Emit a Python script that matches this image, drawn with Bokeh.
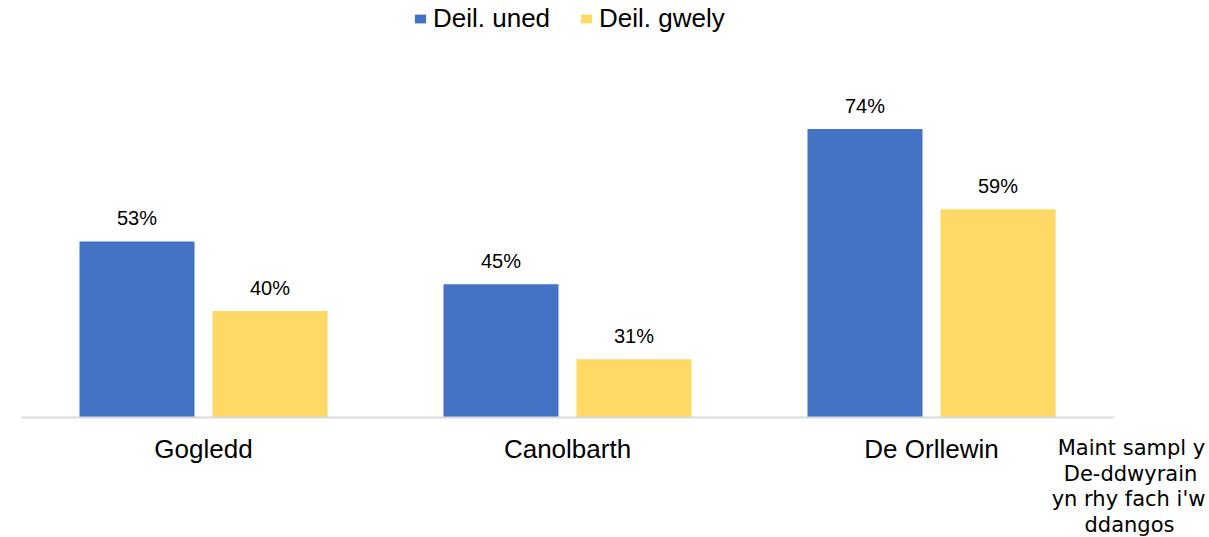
from bokeh.plotting import figure
from bokeh.models import (ColumnDataSource, Range1d, Legend, LegendItem, LabelSet, Label,
                          LinearAxis, FixedTicker)
from bokeh.transform import dodge
from bokeh.core.properties import value
from bokeh.embed import file_html
from bokeh.resources import INLINE

categories = ["Gogledd", "Canolbarth", "De Orllewin"]
series_names = ["Deil. uned", "Deil. gwely"]
deil_uned = [53, 45, 74]
deil_gwely = [40, 31, 59]
colors = ["#4472C4", "#FFD966"]
note_lines = ["Maint sampl y", "De-ddwyrain", "yn rhy fach i'w", "ddangos"]

cat_pos = [i + 0.5 for i in range(len(categories))]
src = ColumnDataSource(dict(
    pos=cat_pos,
    uned=deil_uned,
    gwely=deil_gwely,
    uned_lbl=[f"{v}%" for v in deil_uned],
    gwely_lbl=[f"{v}%" for v in deil_gwely],
))

W, H = 1209, 537
Y0 = 20            # value at the category axis
X_START, X_END = -0.0577, 3.2637
Y_START, Y_END = -2.34, 98.04

p = figure(x_range=Range1d(X_START, X_END), y_range=Range1d(Y_START, Y_END),
           width=W, height=H, output_backend="svg", toolbar_location=None,
           x_axis_location=None, y_axis_location=None,
           min_border_left=0, min_border_right=0, min_border_top=0, min_border_bottom=0)

BW = 0.316
OFF = 0.1827
r1 = p.vbar(x=dodge("pos", -OFF), top="uned", bottom=Y0, width=BW,
            source=src, fill_color=colors[0], line_color=None)
r2 = p.vbar(x=dodge("pos", OFF), top="gwely", bottom=Y0, width=BW,
            source=src, fill_color=colors[1], line_color=None)

font = "Liberation Sans"
for col, lbl, off in (("uned", "uned_lbl", -OFF), ("gwely", "gwely_lbl", OFF)):
    ls = LabelSet(x=dodge("pos", off), y=col, text=lbl, source=src,
                  text_align="center", text_baseline="alphabetic", y_offset=16,
                  text_font=value(font), text_font_size="20px", text_color="#000000")
    p.add_layout(ls)

xa = LinearAxis(ticker=FixedTicker(ticks=cat_pos),
                major_label_overrides={pos: c for pos, c in zip(cat_pos, categories)},
                fixed_location=Y0, bounds=(0, len(categories)))
xa.major_tick_line_color = None
xa.minor_tick_line_color = None
xa.axis_line_color = "#d9d9d9"
xa.axis_line_width = 2
xa.major_label_text_font = font
xa.major_label_text_font_size = "26px"
xa.major_label_text_color = "#000000"
xa.major_label_standoff = 10
p.add_layout(xa, "below")

p.xgrid.visible = False
p.ygrid.visible = False
p.outline_line_color = None

legend = Legend(items=[LegendItem(label=series_names[0], renderers=[r1]),
                       LegendItem(label=series_names[1], renderers=[r2])],
                orientation="horizontal", location=(413, 503), padding=0, margin=0,
                border_line_color=None, background_fill_alpha=0,
                glyph_width=14, glyph_height=11, label_standoff=6, spacing=29,
                label_text_font=font, label_text_font_size="26px", label_height=30,
                label_text_color="#000000")
p.add_layout(legend)

note_x = [1131, 1130, 1128, 1129]
note_y = [90, 64, 39, 13]
for t, x, y in zip(note_lines, note_x, note_y):
    p.add_layout(Label(x=x, y=y, x_units="screen", y_units="screen", text=t,
                       text_align="center", text_baseline="alphabetic",
                       text_font="DejaVu Sans", text_font_size="21px", text_color="#000000"))

open("out.html", "w").write(file_html(p, INLINE))
